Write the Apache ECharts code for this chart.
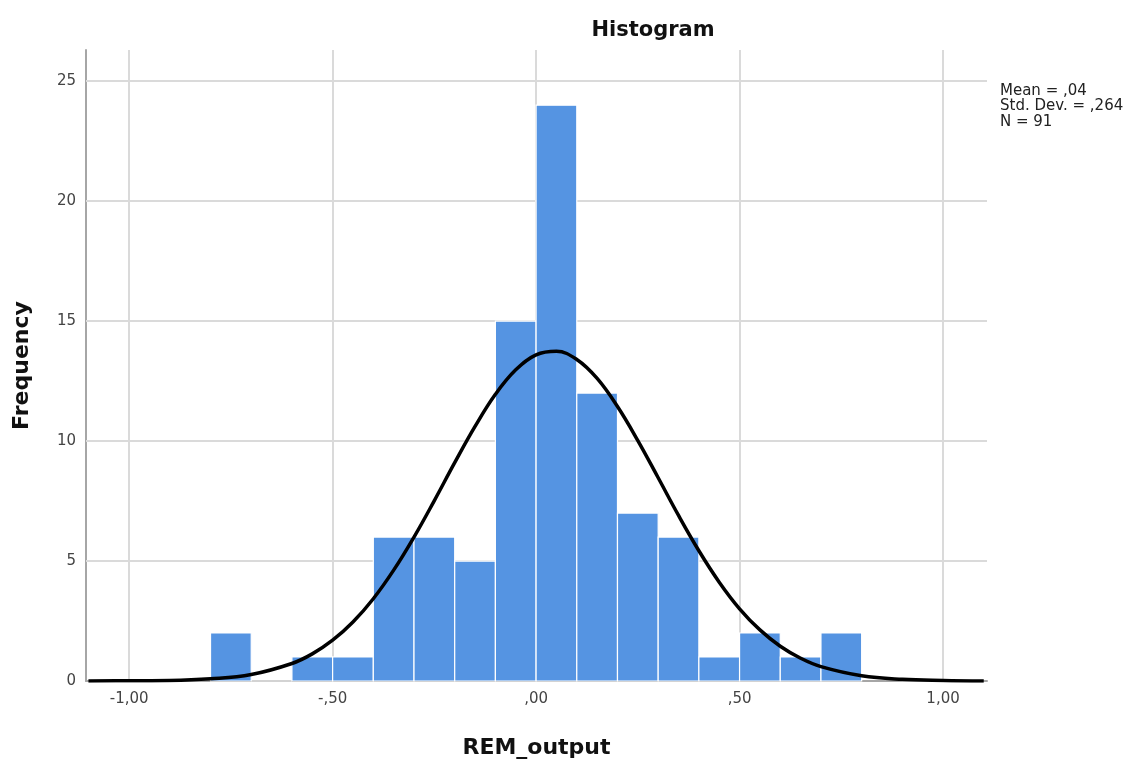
<!DOCTYPE html>
<html>
<head>
<meta charset="utf-8">
<script src="https://cdn.jsdelivr.net/npm/echarts@6/dist/echarts.min.js"></script>
<style>
  html, body { margin: 0; padding: 0; background: #fff; }
  #chart { width: 1125px; height: 760px; }
</style>
</head>
<body>
<div id="chart"></div>
<script>
// histogram bins (left edge of each bin, width 0.1)
const binStarts = [-0.8, -0.7, -0.6, -0.5, -0.4, -0.3, -0.2, -0.1, 0.0, 0.1, 0.2, 0.3, 0.4, 0.5, 0.6, 0.7]
const binCounts = [2, 0, 1, 1, 6, 6, 5, 15, 24, 12, 7, 6, 1, 2, 1, 2]
const binWidth = 0.1

// fitted normal curve
const curveX = [-1.1, -1.0, -0.9, -0.8, -0.7, -0.6, -0.55, -0.5, -0.45, -0.4, -0.35, -0.3, -0.25, -0.2, -0.15, -0.1, -0.05,
  0.0, 0.05, 0.1, 0.15, 0.2, 0.25, 0.3, 0.35, 0.4, 0.45, 0.5, 0.55, 0.6, 0.65, 0.7, 0.8, 0.9, 1.0, 1.1]
const curveY = [0.00, 0.01, 0.02, 0.09, 0.27, 0.73, 1.13, 1.70, 2.46, 3.43, 4.62, 6.00, 7.52, 9.10, 10.61, 11.95, 12.97,
  13.59, 13.74, 13.40, 12.61, 11.44, 10.02, 8.47, 6.90, 5.43, 4.12, 3.01, 2.13, 1.45, 0.95, 0.60, 0.22, 0.07, 0.02, 0.00]

const xTicks = [-1.0, -0.5, 0.0, 0.5, 1.0]
const yTicks = [0, 5, 10, 15, 20, 25]

const statsLines = ['Mean = ,04', 'Std. Dev. = ,264', 'N = 91']

const GRID_COLOR = '#dadada'
const AXIS_COLOR = '#a6a6a6'
const BAR_COLOR = '#5594e2'
const FONT = 'DejaVu Sans, Verdana, sans-serif'

// SPSS style: comma decimal, no leading zero
const fmtX = (v) => {
  let s = Math.abs(v).toFixed(2).replace('.', ',')
  if (s.startsWith('0')) s = s.slice(1)
  return (v < -1e-9 ? '-' : '') + s
}

const histData = binStarts.map((s, i) => [s, s + binWidth, binCounts[i]])
const curveData = curveX.map((x, i) => [x, curveY[i]])

const chart = echarts.init(document.getElementById('chart'))

chart.setOption({
  animation: false,
  textStyle: { fontFamily: FONT },
  grid: { left: 86, right: 138, top: 50, bottom: 79, containLabel: false, outerBoundsMode: 'none' },
  xAxis: {
    type: 'value',
    min: -1.106,
    max: 1.108,
    name: 'REM_output',
    nameLocation: 'middle',
    nameGap: 56,
    nameTextStyle: { fontSize: 22, fontWeight: 'bold', color: '#111', fontFamily: FONT },
    axisLine: { show: true, onZero: false, lineStyle: { color: AXIS_COLOR, width: 2 } },
    axisTick: { show: false },
    splitLine: { show: false },
    axisLabel: { customValues: xTicks, formatter: fmtX, margin: 11, fontSize: 15, color: '#444' }
  },
  yAxis: {
    type: 'value',
    min: 0,
    max: 26.3,
    name: 'Frequency',
    nameLocation: 'middle',
    nameGap: 53,
    nameTextStyle: { fontSize: 22, fontWeight: 'bold', color: '#111', fontFamily: FONT },
    axisLine: { show: true, onZero: false, lineStyle: { color: AXIS_COLOR, width: 2 } },
    axisTick: { show: false },
    splitLine: { show: false },
    axisLabel: { customValues: yTicks, formatter: (v) => String(v), margin: 10, fontSize: 15, color: '#444' }
  },
  graphic: [
    {
      type: 'text',
      x: 653,
      y: 31,
      style: {
        text: 'Histogram',
        font: 'bold 21px ' + FONT,
        fill: '#111',
        textAlign: 'center',
        textVerticalAlign: 'middle'
      }
    },
    {
      type: 'text',
      x: 1000,
      y: 83,
      style: {
        text: statsLines.join('\n'),
        font: '15px ' + FONT,
        lineHeight: 15.5,
        fill: '#222',
        textAlign: 'left',
        textVerticalAlign: 'top'
      }
    }
  ],
  series: [
    {
      // grid lines behind the bars
      type: 'line',
      data: [],
      z: 1,
      markLine: {
        silent: true,
        symbol: 'none',
        z: 1,
        animation: false,
        label: { show: false },
        lineStyle: { color: GRID_COLOR, width: 2, type: 'solid' },
        emphasis: { disabled: true },
        data: xTicks.map((t) => ({ xAxis: t })).concat(yTicks.filter((t) => t > 0).map((t) => ({ yAxis: t })))
      }
    },
    {
      type: 'custom',
      z: 5,
      data: histData,
      encode: { x: [0, 1], y: 2 },
      renderItem: (params, api) => {
        const p0 = api.coord([api.value(0), api.value(2)])
        const p1 = api.coord([api.value(1), 0])
        return {
          type: 'rect',
          shape: { x: p0[0], y: p0[1], width: p1[0] - p0[0], height: p1[1] - p0[1] },
          style: { fill: BAR_COLOR, stroke: '#fff', lineWidth: 1.2 }
        }
      }
    },
    {
      type: 'line',
      z: 10,
      data: curveData,
      smooth: 0.4,
      symbol: 'none',
      lineStyle: { color: '#000', width: 3.5 }
    }
  ]
})
</script>
</body>
</html>
